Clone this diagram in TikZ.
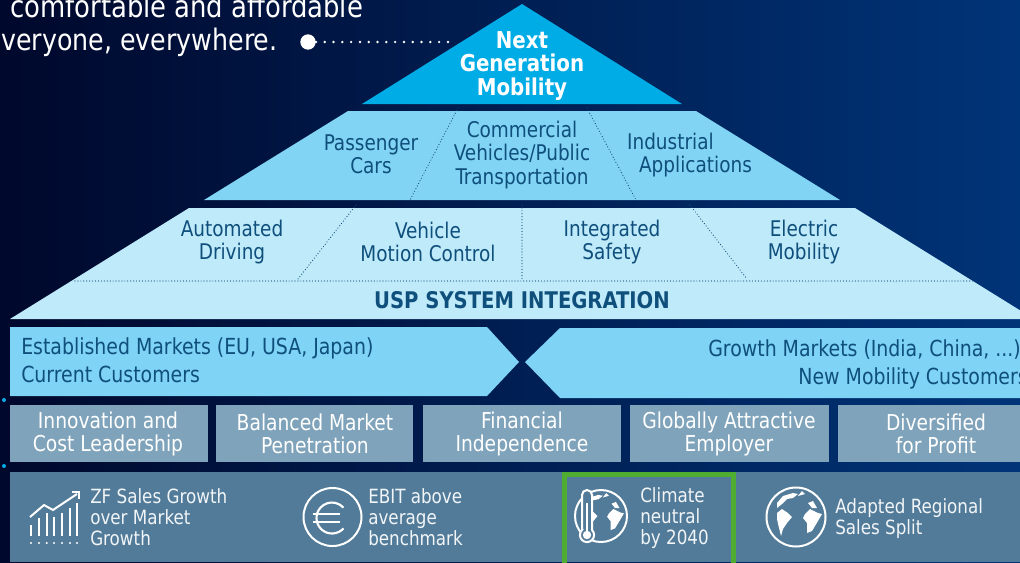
\documentclass[tikz,border=0pt]{standalone}
\usepackage{fontspec}
\setmainfont{DejaVu Sans Condensed}[FakeStretch=0.95]
\usetikzlibrary{calc}
\definecolor{bgL}{HTML}{00082C}
\definecolor{bgM}{HTML}{00164A}
\definecolor{bgR}{HTML}{003478}
\definecolor{topc}{HTML}{00ACE6}
\definecolor{midc}{HTML}{82D4F4}
\definecolor{lowc}{HTML}{BFEAFA}
\definecolor{mktc}{HTML}{7FD3F4}
\definecolor{boxc}{HTML}{7FA3BA}
\definecolor{bandc}{HTML}{527B99}
\definecolor{inkc}{HTML}{0F4F7C}
\definecolor{greenc}{HTML}{4FAE32}
\tikzset{
  x=0.75pt,y=-0.75pt,
  tier/.style={align=center,text=inkc,inner sep=0pt,font=\fontsize{16.2}{17.4}\selectfont},
  mkt/.style={text=inkc,inner sep=0pt,font=\fontsize{16.6}{21}\selectfont},
  goal/.style={align=center,text=white,inner sep=0pt,font=\fontsize{16.4}{17.2}\selectfont},
  kpi/.style={anchor=west,align=left,text=white!92!bandc,inner sep=0pt,font=\fontsize{14.7}{15.8}\selectfont},
  divider/.style={draw=inkc,line width=0.9pt,line cap=round,dash pattern=on 0pt off 2.2pt},
  icon/.style={draw=white,line width=1.3pt},
  intro/.style={anchor=base west,text=white,inner sep=0pt},
}
\newcommand{\landmasses}{%
  \fill[white] (-19,-14) -- (-13,-21) -- (-3,-24) -- (2,-23) -- (-3,-19) -- (-9,-18) -- (-14,-13) -- (-19,-9) -- cycle;
  \fill[white] (-19,-4) -- (-14,-8) -- (-8,-4) -- (-4,0) -- (-9,6) -- (-13,12) -- (-15,19) -- (-17,11) -- (-19,2) -- cycle;
  \fill[white] (9,-3) -- (14,-8) -- (22,-4) -- (26,-3) -- (22,4) -- (16,14) -- (11,16) -- (11,6) -- (7,1) -- cycle;
  \fill[white] (12,-14) -- (17,-16) -- (21,-9) -- (16,-9) -- cycle;
  \fill[white] (6,-26) -- (9,-23) -- (2,-21) -- cycle;
}
\begin{document}
\begin{tikzpicture}
\useasboundingbox (0,0) rectangle (1020,562);
\clip (0,0) rectangle (1020,562);
\shade[left color=bgL,middle color=bgM,right color=bgR] (0,0) rectangle (1020,562);
% pyramid
\fill[topc] (522,4) -- (682,104) -- (362,104) -- cycle;
\fill[midc] (348,111) -- (696,111) -- (840,200) -- (204,200) -- cycle;
\fill[lowc] (189,208) -- (855,208) -- (1034,319) -- (10,319) -- cycle;
\coordinate (a1) at (458,108); \coordinate (a2) at (410,200);
\coordinate (b1) at (587,108); \coordinate (b2) at (636,200);
\draw[divider] (a1) -- (a2);
\draw[divider] (b1) -- (b2);
\coordinate (c1) at (356,205); \coordinate (c2) at (298,279);
\coordinate (d1) at (522,205); \coordinate (d2) at (522,279);
\coordinate (e1) at (690,205); \coordinate (e2) at (747,279);
\coordinate (f1) at (75,281); \coordinate (f2) at (973,281);
\draw[divider] (c1) -- (c2);
\draw[divider] (d1) -- (d2);
\draw[divider] (e1) -- (e2);
\draw[divider] (f1) -- (f2);
\node[align=center,text=white,inner sep=0pt,font=\fontsize{17.4}{17.6}\bfseries\selectfont] (ngm) at (522,66) {Next\\Generation\\Mobility};
\node[tier] (pc) at (371,154) {Passenger\\Cars};
\node[tier] (cv) at (522,155) {Commercial\\Vehicles/Public\\Transportation};
\node[tier,align=left] (ia) at (689.5,155) {Industrial\\\rule{9pt}{0pt}Applications};
\node[tier] (ad) at (232,242) {Automated\\Driving};
\node[tier] (vm) at (428,242) {Vehicle\\Motion Control};
\node[tier] (is) at (612,242) {Integrated\\Safety};
\node[tier] (em) at (804,242) {Electric\\Mobility};
\node[text=inkc,inner sep=0pt,font=\fontsize{17.2}{18}\bfseries\selectfont] (usp) at (522,300) {USP SYSTEM INTEGRATION};
% markets
\fill[mktc] (10,327) -- (487,327) -- (519,362) -- (487,396) -- (10,396) -- cycle;
\fill[mktc] (560,328) -- (1020,328) -- (1020,398) -- (560,398) -- (525,362) -- cycle;
\node[mkt,anchor=west,align=left] (est) at (21,360) {Established Markets (EU, USA, Japan)\\Current Customers};
\node[mkt,anchor=east,align=right] (gro) at (1028,364) {Growth Markets (India, China, ...)\rule{5.2pt}{0pt}\\New Mobility Customers};
% goal boxes
\fill[boxc] (10,405) rectangle (207.5,462);
\fill[boxc] (216,405) rectangle (413,462);
\fill[boxc] (423,405) rectangle (621,462);
\fill[boxc] (630,405) rectangle (829,462);
\fill[boxc] (838,405) rectangle (1020,462);
\node[goal] (g1) at (108,433.5) {Innovation and\\Cost Leadership};
\node[goal] (g2) at (315,433.5) {Balanced Market\\Penetration};
\node[goal] (g3) at (522,433.5) {Financial\\Independence};
\node[goal] (g4) at (729,433.5) {Globally Attractive\\Employer};
\node[goal] (g5) at (936,433.5) {Diversified\\for Profit};
% bottom band
\fill[bandc] (10,472) rectangle (1020,562);
\draw[greenc,line width=3.75pt] (564.5,474.5) rectangle (733.5,565);
\node[kpi] (k1) at (90,517) {ZF Sales Growth\\over Market\\Growth};
\node[kpi] (k2) at (368,517.5) {EBIT above\\average\\benchmark};
\node[kpi] (k3) at (640,518) {Climate\\neutral\\by 2040};
\node[kpi] (k4) at (835,518.5) {Adapted Regional\\Sales Split};
% chart icon
\foreach \bx/\by in {31/525,39/518,46.7/513,54/517,62/513,70/508,77/503}{
  \draw[icon,line width=1.6pt] (\bx,\by) -- (\bx,536);
  \fill[white] (\bx,543) circle (1.1);
}
\draw[icon,line width=1.5pt] (30,517) -- (44,505) -- (53,510) -- (77,494);
\draw[icon,line width=1.5pt] (72,492) -- (79,492) -- (79,499);
% euro icon
\draw[icon,line width=1.5pt] (332.5,517) circle (29);
\draw[icon,line width=1.6pt] ($(332,518)+(42:15.5)$) arc (42:318:15.5);
\draw[icon] (313,514) -- (340,514);
\draw[icon] (313,522) -- (340,522);
% climate globe
\begin{scope}[shift={(601,516)}]
  \draw[icon,line width=1.5pt] (0,0) circle (26);
  \begin{scope}[scale=0.88]\landmasses\end{scope}
\end{scope}
\draw[icon,fill=bandc,line width=1.5pt] (582,530) -- (582,495) arc (180:360:5) -- (592,530) arc (-45:225:7.07) -- cycle;
\draw[icon,line width=1.6pt] (587,503) -- (587,533);
\fill[white] (587,535) circle (4.2);
% globe
\begin{scope}[shift={(796,517)}]
  \draw[icon,line width=1.5pt] (0,0) circle (29.5);
  \landmasses
\end{scope}
% intro text
\node[intro,font=\fontsize{22.7}{24}\selectfont] (t1) at (10,17) {comfortable and affordable};
\node[intro,font=\fontsize{22.2}{24}\selectfont] (t2) at (1,50) {veryone, everywhere.};
\node[circle,fill=white,inner sep=0pt,minimum size=11.5pt] (pt) at (308,42) {};
\coordinate (ptend) at (449,42);
\draw[white,line width=2pt,line cap=round,dash pattern=on 0pt off 6.6pt] (pt) -- (ptend);
% edge marks
\fill[topc] (4,400) circle (2);
\fill[topc] (4,466) circle (2);
\end{tikzpicture}
\end{document}
